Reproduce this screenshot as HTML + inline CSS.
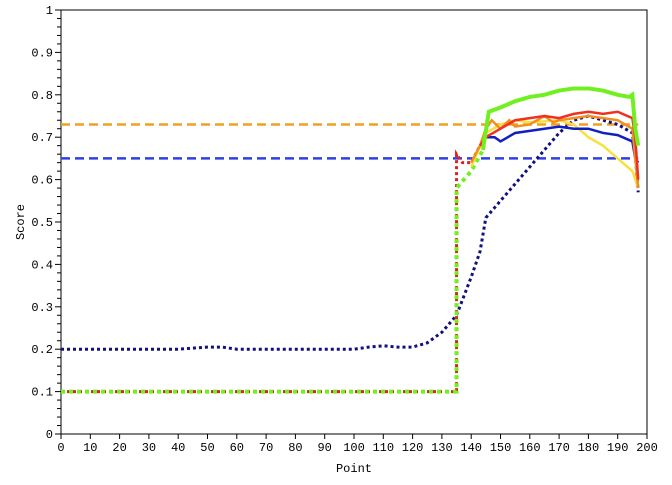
<!DOCTYPE html>
<html><head><meta charset="utf-8"><style>
body{margin:0;background:#fff;width:672px;height:480px;overflow:hidden}
svg text{font-family:"Liberation Mono","Noto Sans CJK JP",monospace;font-size:12px;fill:#000}
</style></head><body>
<svg id="chart" width="672" height="480" xmlns="http://www.w3.org/2000/svg"></svg>
<script>
const xTicks=[0,10,20,30,40,50,60,70,80,90,100,110,120,130,140,150,160,170,180,190,200];
const yTicks=[0,0.1,0.2,0.3,0.4,0.5,0.6,0.7,0.8,0.9,1];
const yTickLabels=["0","0.1","0.2","0.3","0.4","0.5","0.6","0.7","0.8","0.9","1"];
const refOrange=0.73, refBlue=0.65;
const navyX=[0,40,50,55,60,100,105,110,115,120,125,130,135,140,143,145,150,155,160,165,170,175,180,185,190,195,196,197];
const navyY=[0.2,0.2,0.205,0.205,0.2,0.2,0.205,0.208,0.205,0.205,0.215,0.24,0.28,0.37,0.43,0.51,0.55,0.59,0.63,0.67,0.71,0.74,0.75,0.74,0.73,0.71,0.66,0.57];
const redDotX=[0,135,135,137,140,143];
const redDotY=[0.1,0.1,0.66,0.64,0.64,0.68];
const redX=[143,145,150,155,160,165,170,175,180,185,190,195,196,197];
const redY=[0.68,0.70,0.72,0.74,0.745,0.75,0.745,0.755,0.76,0.755,0.76,0.745,0.70,0.60];
const greenDotX=[0,134,135,135,140,144];
const greenDotY=[0.1,0.1,0.1,0.58,0.62,0.67];
const greenX=[144,146,150,155,160,165,170,175,180,185,190,194,195,196,197];
const greenY=[0.67,0.76,0.77,0.785,0.795,0.80,0.81,0.815,0.815,0.81,0.80,0.795,0.80,0.72,0.68];
const orangeX=[140,143,145,147,150,153,155,160,165,168,170,175,180,185,190,195,196,197];
const orangeY=[0.64,0.68,0.72,0.74,0.72,0.74,0.725,0.73,0.75,0.735,0.74,0.745,0.75,0.745,0.74,0.72,0.65,0.58];
const yellowX=[140,145,150,155,160,170,175,180,185,190,195,196,197];
const yellowY=[0.63,0.71,0.73,0.74,0.735,0.74,0.73,0.70,0.68,0.65,0.62,0.60,0.58];
const blueX=[143,145,148,150,155,160,165,170,175,180,185,190,195,196,197];
const blueY=[0.68,0.70,0.70,0.69,0.71,0.715,0.72,0.725,0.72,0.72,0.71,0.705,0.69,0.65,0.64];

const L=61,R=647,T=10,B=434;
const sx=v=>L+(v/200)*(R-L), sy=v=>B-v*(B-T);
const svg=document.getElementById('chart');const NS='http://www.w3.org/2000/svg';
function mk(t,a){const e=document.createElementNS(NS,t);for(const k in a)e.setAttribute(k,a[k]);svg.appendChild(e);return e;}
function line(xs,ys,color,w,dash,name){
  const p=mk('polyline',{points:xs.map((x,i)=>sx(x)+','+sy(ys[i])).join(' '),fill:'none',stroke:color,'stroke-width':w,'stroke-dasharray':dash||'none'});
  
  
}
const frame=mk('rect',{x:L,y:T,width:R-L,height:B-T,fill:'none',stroke:'#000','stroke-width':1});


for(let i=0;i<=50;i++){const v=i*0.02;const major=i%5===0;
  mk('line',{x1:L-(major?6:4),x2:L,y1:sy(v),y2:sy(v),stroke:'#000','stroke-width':1});}
yTicks.forEach((v,i)=>{const t=mk('text',{x:L-8,y:sy(v)+4,'text-anchor':'end'});t.textContent=yTickLabels[i];
  
  });
xTicks.forEach(v=>{mk('line',{x1:sx(v),x2:sx(v),y1:B,y2:B+5,stroke:'#000'});
  const t=mk('text',{x:sx(v),y:B+17,'text-anchor':'middle'});t.textContent=v;
  
  });
const xt=mk('text',{x:(L+R)/2,y:472,'text-anchor':'middle'});xt.textContent='Point';


const yt=mk('text',{x:24,y:(T+B)/2,'text-anchor':'middle',transform:'rotate(-90 24 '+((T+B)/2)+')'});yt.textContent='Score';



line([0,197],[refOrange,refOrange],'#f0a020',2.5,'9,5','orange-reference-line');
line([0,197],[refBlue,refBlue],'#3040e0',2.5,'9,5','blue-reference-line');
line(navyX,navyY,'#101080',3,'3,3','navy-series');
line(redDotX,redDotY,'#e02020',3,'3,3','red-series-dotted');
line(greenDotX,greenDotY,'#70f020',4,'4,4','green-series-dotted');
line(yellowX,yellowY,'#f8e040',2.5,'','yellow-series');
line(blueX,blueY,'#1020c0',2.5,'','blue-series');
line(orangeX,orangeY,'#f09020',2.5,'','orange-series');
line(redX,redY,'#f03020',2.5,'','red-series');
line(greenX,greenY,'#70f020',4,'','green-series');
</script>
</body></html>
